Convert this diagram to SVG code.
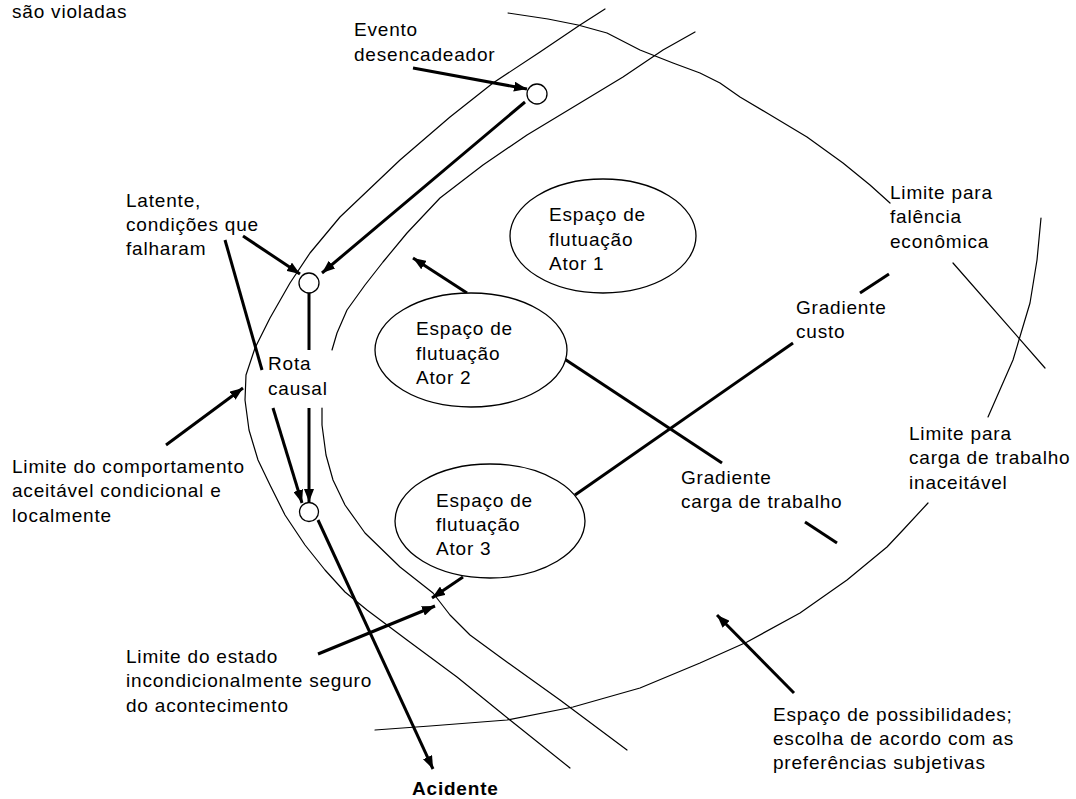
<svg xmlns="http://www.w3.org/2000/svg" width="1076" height="799" viewBox="0 0 1076 799">
<style>
text{font-family:"Liberation Sans",Arial,sans-serif;font-size:19px;letter-spacing:0.8px;fill:#000}
.b{font-weight:bold}
.thin{fill:none;stroke:#000;stroke-width:1.2;stroke-linejoin:round;stroke-linecap:round}
.arr{fill:none;stroke:#000;stroke-width:3}
.node{fill:#fff;stroke:#000;stroke-width:1.3}
</style>
<defs>
<marker id="ah" markerUnits="userSpaceOnUse" markerWidth="14" markerHeight="10" refX="13" refY="5" orient="auto">
<path d="M0,0 L13,5 L0,10 z" fill="#000"/>
</marker>
</defs>
<rect width="1076" height="799" fill="#fff"/>

<g id="boundaries">
<path id="outer" class="thin" d="M605,9 L580,25 L540,52 L493,83 L450,117 L400,160 L340,217 L310,253 L290,283 L270,318 L255,348 L246,375 L245,400 L249,430 L258,460 L270,485 L285,515 L305,545 L325,570 L345,592 L367,610 L407,640 L457,677 L510,720 L570,768"/>
<path id="inner" class="thin" d="M695,32 L663,50 L623,77 L580,103 L527,135 L483,165 L440,198 L407,233 L383,262 L365,285 L347,310 L337,333 L332,350"/>
<path id="inner2" class="thin" d="M322,408 L322,425 L326,455 L333,480 L345,505 L365,533 L400,567 L433,593 L450,615 L470,635 L500,657 L560,700 L627,750"/>
<path id="economic" class="thin" d="M508,13 L548,19 L578,25 L607,33 L640,50 L673,63 L700,73 L720,83 L740,97 L767,113 L807,137 L843,163 L870,185 L890,203"/>
<path id="economic2" class="thin" d="M953,263 L1045,368"/>
<path id="workload" class="thin" d="M375,730 L430,726 L507,720 L573,707 L640,688 L700,663 L747,642 L800,613 L847,580 L887,547 L903,530 L928,503"/>
<path id="workload2" class="thin" d="M988,417 L1013,360 L1030,303 L1037,260 L1041,218"/>
</g>

<g id="connectors">
<line class="arr" x1="413" y1="68" x2="527" y2="89" marker-end="url(#ah)"/>
<line class="arr" x1="525" y1="102" x2="322" y2="273" marker-end="url(#ah)"/>
<line class="arr" x1="243" y1="236" x2="300" y2="274" marker-end="url(#ah)"/>
<line class="arr" x1="309" y1="293" x2="309" y2="350"/>
<line class="arr" x1="309" y1="408" x2="309" y2="502" marker-end="url(#ah)"/>
<line class="arr" x1="225" y1="240" x2="262" y2="370"/>
<line class="arr" x1="273" y1="408" x2="302" y2="503" marker-end="url(#ah)"/>
<line class="arr" x1="467" y1="293" x2="413" y2="258" marker-end="url(#ah)"/>
<line class="arr" x1="166" y1="445" x2="243" y2="388" marker-end="url(#ah)"/>
<line class="arr" x1="318" y1="654" x2="435" y2="606" marker-end="url(#ah)"/>
<line class="arr" x1="463" y1="577" x2="432" y2="598" marker-end="url(#ah)"/>
<line class="arr" x1="318" y1="520" x2="433" y2="769" marker-end="url(#ah)"/>
<line class="arr" x1="794" y1="693" x2="717" y2="615" stroke-width="2.5" marker-end="url(#ah)"/>
<line class="arr" x1="575" y1="495" x2="793" y2="343" stroke-width="4"/>
<line class="arr" x1="860" y1="293" x2="889" y2="274" stroke-width="4"/>
<line class="arr" x1="563" y1="358" x2="722" y2="463"/>
<line class="arr" x1="805" y1="522" x2="837" y2="543"/>
</g>

<g id="node-evento"><circle class="node" cx="537" cy="94" r="10"/></g>
<g id="node-latente"><circle class="node" cx="309" cy="283" r="10"/></g>
<g id="node-rota"><circle class="node" cx="309" cy="512" r="9.5"/></g>

<g id="ator1"><ellipse class="node" cx="603" cy="236" rx="93" ry="57"/>
<text x="549" y="221">Espaço de</text><text x="549" y="246">flutuação</text><text x="549" y="270">Ator 1</text></g>
<g id="ator2"><ellipse class="node" cx="471" cy="350" rx="96" ry="57"/>
<text x="416" y="335">Espaço de</text><text x="416" y="360">flutuação</text><text x="416" y="384">Ator 2</text></g>
<g id="ator3"><ellipse class="node" cx="490" cy="521" rx="95" ry="57"/>
<text x="436" y="507">Espaço de</text><text x="436" y="531">flutuação</text><text x="436" y="555">Ator 3</text></g>

<g id="labels">
<text x="12" y="18">são violadas</text>
<text x="354" y="36">Evento</text><text x="354" y="61">desencadeador</text>
<text x="126" y="207">Latente,</text><text x="126" y="231">condições que</text><text x="126" y="255">falharam</text>
<text x="890" y="199">Limite para</text><text x="890" y="223">falência</text><text x="890" y="248">econômica</text>
<text x="268" y="370">Rota</text><text x="268" y="395">causal</text>
<text x="796" y="314">Gradiente</text><text x="796" y="338">custo</text>
<text x="681" y="484">Gradiente</text><text x="681" y="508">carga de trabalho</text>
<text x="909" y="440">Limite para</text><text x="909" y="464">carga de trabalho</text><text x="909" y="489">inaceitável</text>
<text x="12" y="473">Limite do comportamento</text><text x="12" y="497">aceitável condicional e</text><text x="12" y="522">localmente</text>
<text x="126" y="663">Limite do estado</text><text x="126" y="687">incondicionalmente seguro</text><text x="126" y="712">do acontecimento</text>
<text x="773" y="721">Espaço de possibilidades;</text><text x="773" y="745">escolha de acordo com as</text><text x="773" y="769">preferências subjetivas</text>
<text class="b" x="412" y="795">Acidente</text>
</g>
</svg>
